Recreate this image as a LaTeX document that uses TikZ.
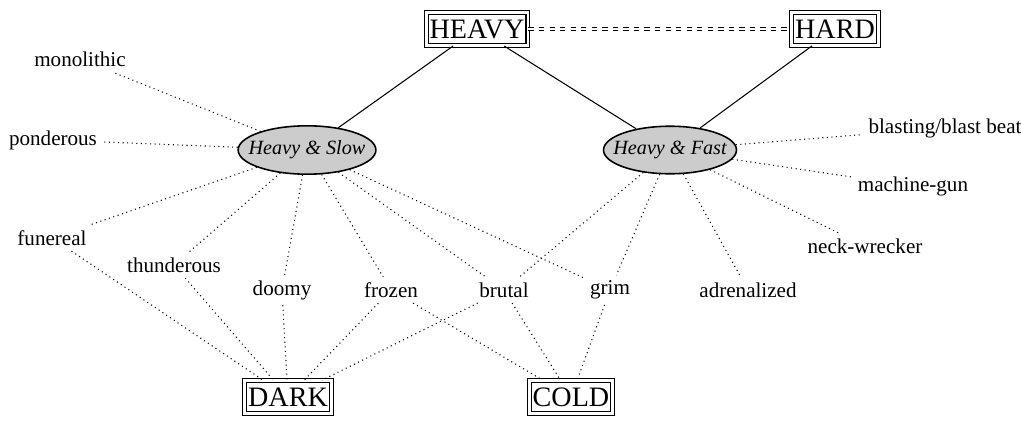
\documentclass[tikz,border=0pt]{standalone}
\usepackage{fontspec}
\setmainfont{Liberation Serif}
\usetikzlibrary{shapes.geometric}

\tikzset{
  genre/.style={draw, double, double distance=1.6pt, line width=0.6pt, inner xsep=2pt, inner ysep=4pt, font=\fontsize{16}{18}\selectfont},
  tempo/.style={draw, ellipse, fill=black!20, line width=0.9pt, inner xsep=-5.5pt, inner ysep=4.5pt, font=\fontsize{11.5}{14}\itshape},
  word/.style={inner sep=3pt, font=\fontsize{12}{14}\selectfont},
  link/.style={dotted, line width=0.6pt},
}

\begin{document}
\begin{tikzpicture}
  \useasboundingbox (0,0) rectangle (20.42,-8.46);
  % top level
  \node[genre] (heavy) at (9.54,-0.58) {HEAVY};
  \node[genre] (hard) at (16.70,-0.58) {HARD};
  \node[tempo] (slow) at (6.14,-3.00) {Heavy \& Slow};
  \node[tempo] (fast) at (13.40,-3.00) {Heavy \& Fast};
  % descriptors
  \node[word] (monolithic) at (1.60,-1.18) {monolithic};
  \node[word] (ponderous) at (1.06,-2.80) {ponderous};
  \node[word] (funereal) at (1.04,-4.76) {funereal};
  \node[word] (thunderous) at (3.48,-5.30) {thunderous};
  \node[word] (doomy) at (5.64,-5.80) {doomy};
  \node[word] (frozen) at (7.82,-5.80) {frozen};
  \node[word] (brutal) at (10.08,-5.80) {brutal};
  \node[word] (grim) at (12.20,-5.80) {grim};
  \node[word] (adrenalized) at (14.96,-5.80) {adrenalized};
  \node[word] (neck) at (17.30,-4.92) {neck-wrecker};
  \node[word] (machine) at (18.26,-3.72) {machine-gun};
  \node[word] (blasting) at (18.90,-2.56) {blasting/blast beat};
  % bottom level
  \node[genre] (dark) at (5.76,-7.94) {DARK};
  \node[genre] (cold) at (11.42,-7.94) {COLD};

  \draw[double, dashed, double distance=1.6pt, line width=0.6pt] (heavy) -- (hard);
  \draw[line width=0.6pt] (heavy) -- (slow);
  \draw[line width=0.6pt] (heavy) -- (fast);
  \draw[line width=0.6pt] (hard) -- (fast);

  \foreach \w in {monolithic, ponderous, funereal, thunderous, doomy, frozen, brutal, grim}
    \draw[link] (slow) -- (\w);
  \foreach \w in {blasting, machine, neck, adrenalized, grim, brutal}
    \draw[link] (fast) -- (\w);
  \foreach \w in {funereal, thunderous, doomy, frozen, brutal}
    \draw[link] (\w) -- (dark);
  \foreach \w in {frozen, brutal, grim}
    \draw[link] (\w) -- (cold);
\end{tikzpicture}
\end{document}
